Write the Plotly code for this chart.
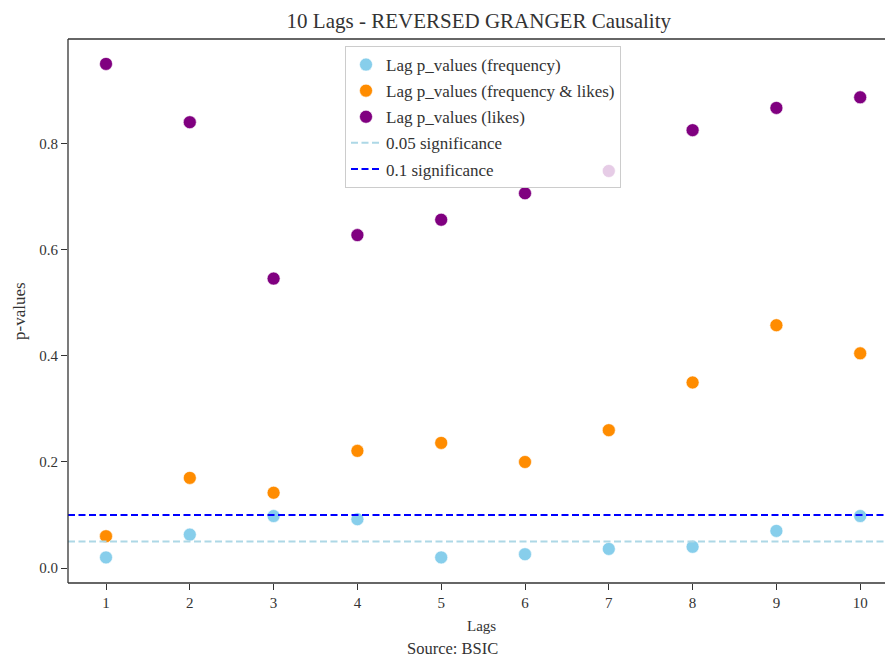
import plotly.graph_objects as go

# Granger causality p-values per lag (reversed direction)
lags = [1, 2, 3, 4, 5, 6, 7, 8, 9, 10]
p_frequency = [0.020, 0.063, 0.098, 0.092, 0.020, 0.026, 0.036, 0.040, 0.070, 0.098]
p_freq_likes = [0.060, 0.170, 0.142, 0.221, 0.236, 0.200, 0.260, 0.350, 0.458, 0.405]
p_likes = [0.951, 0.841, 0.546, 0.628, 0.657, 0.707, 0.749, 0.826, 0.868, 0.888]
sig_levels = [0.05, 0.1]
sig_names = ["0.05 significance", "0.1 significance"]
sig_colors = ["#ADD8E6", "#0000FF"]
y_ticks = [0.0, 0.2, 0.4, 0.6, 0.8]

X_RANGE = [0.5465, 10.296]
Y_RANGE = [-0.0283, 0.998]
FONT = "Liberation Serif"
TEXT = "#333333"

fig = go.Figure()

for name, vals, col in [
    ("Lag p_values (frequency)", p_frequency, "#87CEEB"),
    ("Lag p_values (frequency & likes)", p_freq_likes, "#FF8C00"),
    ("Lag p_values (likes)", p_likes, "#800080"),
]:
    fig.add_trace(go.Scatter(
        x=lags, y=vals, mode="markers", name=name, legendgroup=name,
        marker=dict(size=13, color=col, line=dict(width=0.6, color="white")),
    ))

for lvl, name, col in zip(sig_levels, sig_names, sig_colors):
    fig.add_trace(go.Scatter(
        x=X_RANGE, y=[lvl, lvl], mode="lines", name=name, legendgroup=name,
        line=dict(color=col, width=2, dash="7px,3.5px"),
    ))

# axes frame: left, bottom and top spines
for x0, y0, x1, y1 in [(0, 0, 0, 1), (0, 0, 1, 0), (0, 1, 1, 1)]:
    fig.add_shape(type="line", xref="paper", yref="paper", x0=x0, y0=y0, x1=x1, y1=y1,
                  line=dict(color="#333333", width=1.3))

fig.add_annotation(text="Lags", xref="paper", yref="paper", x=0.5067, y=-0.079,
                   showarrow=False, xanchor="center", yanchor="middle",
                   font=dict(family=FONT, size=15, color=TEXT))
fig.add_annotation(text="Source: BSIC", xref="paper", yref="paper", x=0.471, y=-0.121,
                   showarrow=False, xanchor="center", yanchor="middle",
                   font=dict(family=FONT, size=16.5, color=TEXT))
fig.add_annotation(text="p-values", xref="paper", yref="paper", x=-0.06, y=0.5,
                   showarrow=False, xanchor="center", yanchor="middle", textangle=-90,
                   font=dict(family=FONT, size=17, color=TEXT))

fig.update_layout(
    width=885, height=657,
    margin=dict(l=68, r=0, t=39, b=74),
    paper_bgcolor="white", plot_bgcolor="white",
    font=dict(family=FONT, size=15, color=TEXT),
    title=dict(text="10 Lags - REVERSED GRANGER Causality", xref="container", x=0.541,
               xanchor="center", yref="container", y=1 - 21 / 657, yanchor="middle",
               font=dict(family=FONT, size=21, color=TEXT)),
    xaxis=dict(range=X_RANGE, tickmode="array", tickvals=lags, ticks="outside",
               ticklen=6, tickcolor="#333333", showgrid=False, zeroline=False,
               showline=False, tickfont=dict(size=15)),
    yaxis=dict(range=Y_RANGE, tickmode="array", tickvals=y_ticks,
               ticktext=[f"{v:.1f}" for v in y_ticks], ticks="outside",
               ticklen=6, tickcolor="#333333", showgrid=False, zeroline=False,
               showline=False, tickfont=dict(size=15)),
    legend=dict(x=(345 - 68) / 817, y=(583 - 46) / 544, xanchor="left", yanchor="top",
                bgcolor="rgba(255,255,255,0.8)", bordercolor="#CCCCCC", borderwidth=1,
                font=dict(family=FONT, size=17, color=TEXT), tracegroupgap=1),
    showlegend=True,
)

fig.write_html("out.html")
